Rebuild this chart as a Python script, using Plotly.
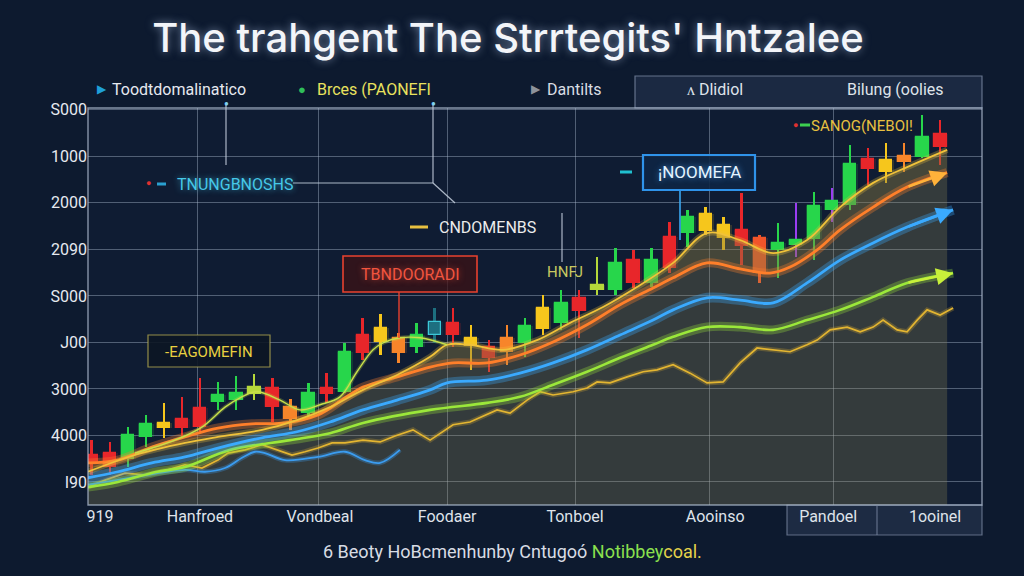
import plotly.graph_objects as go

# ---------------- data ----------------
sessions = list(range(48))
opens  = [0.58,0.62,0.49,0.97,1.16,1.35,1.59,1.72,1.76,1.89,2.02,1.61,1.48,2.02,1.94,3.16,3.01,3.10,2.90,3.16,
          3.42,3.10,2.90,2.80,2.99,3.29,3.42,3.96,4.13,4.13,4.77,4.28,5.27,5.35,5.40,5.53,5.42,5.25,4.99,5.10,
          5.23,5.85,5.96,6.95,6.67,6.88,6.99,7.48]
closes = [0.43,0.32,1.01,1.25,1.27,1.16,1.18,1.87,1.91,2.04,1.61,1.35,1.91,1.89,2.80,2.77,3.31,2.77,3.16,3.44,
          3.16,2.92,2.67,3.10,3.35,3.74,3.85,3.68,4.24,4.71,4.28,4.77,4.60,5.70,5.76,5.25,5.08,4.49,5.14,5.20,
          5.94,6.04,6.84,6.73,6.92,7.01,7.42,7.20]
highs  = [0.90,0.86,1.18,1.44,1.70,1.83,2.24,2.15,2.28,2.32,2.24,1.78,2.13,2.34,2.99,3.53,3.61,3.20,3.42,3.74,
          3.74,3.38,3.05,3.38,3.53,4.02,4.13,4.13,4.84,5.03,4.99,5.03,5.59,5.85,5.91,5.70,6.22,5.30,5.57,6.00,
          6.24,6.32,7.25,7.18,7.29,7.29,7.89,7.78]
lows   = [0.15,0.15,0.32,0.75,0.95,0.97,1.08,1.55,1.55,1.76,1.29,1.12,1.40,1.70,1.91,2.62,2.73,2.56,2.77,2.99,
          2.90,2.41,2.37,2.52,2.69,3.16,3.27,3.10,4.02,4.02,4.17,4.19,4.49,5.05,5.31,4.99,4.67,4.28,4.39,4.84,
          4.77,5.59,5.85,6.39,6.43,6.67,6.97,6.82]
candle_tone = ["red","red","green","green","yellow","red","red","green","green","lime","red","orange","green","red",
               "green","red","yellow","orange","green","teal","red","yellow","red","orange","green","yellow","green",
               "red","lime","green","red","green","red","green","yellow","yellow","red","orangered","green","green",
               "green","green","green","red","yellow","orange","green","red"]
wick_tone = ["purple" if i in (39, 41) else t for i, t in enumerate(candle_tone)]

# smooth indicator lines (session, level)
fast_x = [2.38,4.60,6.09,7.37,8.20,9.14,10.42,11.52,12.63,13.74,14.68,15.57,16.12,17.06,18.17,19.67]
fast_y = [0.62,0.90,1.18,1.61,1.81,1.94,1.76,1.55,1.66,1.83,2.37,2.84,2.99,3.10,3.10,2.95]

yellow_x = [-0.22,2.38,5.15,6.98,9.42,11.36,13.19,15.01,16.90,18.73,19.67,20.94,22.77,24.65,26.48,28.31,30.19,
            32.19,34.07,35.90,37.73,39.61,41.44,43.27,45.15,47.37]
yellow_y = [0.22,0.58,0.84,0.97,1.12,1.33,1.61,1.98,2.30,2.69,2.95,2.95,2.84,3.05,3.42,3.76,4.19,
            4.71,5.35,5.20,4.92,5.20,5.91,6.43,6.77,7.14]

orange_x = [-0.22,1.44,3.32,5.15,6.98,8.86,10.69,12.52,14.02,15.01,16.90,18.73,20.00,21.88,23.71,25.54,27.42,
            29.25,31.08,32.19,34.07,35.90,37.56,38.67,40.17,41.44,43.27,45.15,47.37]
orange_y = [0.41,0.47,0.75,0.97,1.16,1.25,1.27,1.44,1.81,2.04,2.26,2.47,2.56,2.56,2.73,3.01,3.38,
            3.81,4.17,4.39,4.71,4.58,4.49,4.62,4.99,5.42,5.91,6.34,6.65]

blue_x = [-0.22,1.44,3.32,5.15,6.98,9.42,11.36,13.19,15.01,16.90,18.73,19.67,21.88,23.71,25.54,27.42,29.25,
          31.08,32.19,34.07,35.90,37.73,39.61,41.44,43.27,45.15,47.70]
blue_y = [0.09,0.22,0.41,0.54,0.73,0.95,1.08,1.29,1.55,1.76,1.98,2.13,2.19,2.34,2.56,2.84,3.16,
          3.48,3.70,3.96,3.91,3.85,4.28,4.77,5.14,5.48,5.85]

green_x = [-0.22,1.44,3.60,5.15,7.65,10.97,13.19,15.01,18.73,21.88,23.71,25.54,27.42,29.25,31.08,32.19,34.07,
           35.90,37.73,39.61,41.44,43.27,45.15,47.70]
green_y = [-0.11,0.00,0.22,0.32,0.69,0.90,1.05,1.27,1.55,1.70,1.83,2.09,2.37,2.67,2.95,3.12,3.33,
           3.33,3.27,3.48,3.70,3.98,4.28,4.49]

blue2_x = [-0.22,2.11,5.15,6.26,7.37,8.31,9.03,9.58,10.69,12.52,14.02,15.12,15.96,17.06]
blue2_y = [-0.06,0.09,0.26,0.22,0.30,0.52,0.65,0.62,0.47,0.54,0.65,0.47,0.41,0.69]

gold_x = [-0.22,0.72,1.83,2.94,4.21,5.15,6.09,6.98,7.53,8.48,9.42,10.30,11.08,11.80,12.52,13.30,14.02,15.01,
          15.96,16.79,17.78,18.73,20.00,20.94,22.44,23.16,24.10,24.82,25.54,26.65,27.42,27.98,28.70,29.64,
          30.53,31.30,32.19,33.13,34.07,34.96,35.90,36.84,37.73,38.67,39.61,40.17,40.89,41.83,42.55,43.27,
          43.82,44.60,45.15,45.71,46.26,46.98,47.70]
gold_y = [-0.11,0.04,0.19,0.15,0.26,0.37,0.30,0.47,0.62,0.69,0.80,0.69,0.58,0.65,0.73,0.84,0.84,0.90,
          0.86,0.99,1.12,0.90,1.23,1.29,1.55,1.48,1.76,1.94,1.87,1.94,2.02,2.15,2.13,2.26,
          2.37,2.41,2.52,2.34,2.13,2.15,2.56,2.88,2.84,2.80,2.95,3.05,3.27,3.33,3.23,3.33,
          3.48,3.27,3.23,3.48,3.70,3.59,3.74]

y_tick_vals = [0, 1, 2, 3, 4, 5, 6, 7, 8]
y_tick_text = ["I90", "4000", "3000", "J00", "S000", "2090", "2000", "1000", "S000"]
x_tick_vals = [0.44, 5.98, 12.63, 19.67, 26.76, 34.52, 40.78, 46.70]
x_tick_text = ["919", "Hanfroed", "Vondbeal", "Foodaer", "Tonboel", "Aooinso", "Pandoel", "1ooinel"]
x_grid_vals = [5.82, 12.52, 19.67, 26.76, 34.18, 41.05]

# ---------------- styles ----------------
TONE = {"red": "#e8262a", "green": "#27d64b", "yellow": "#f6c61c", "orange": "#f7852a",
        "orangered": "#f2552a", "lime": "#b6d83a", "teal": "#1d6f80", "purple": "#9a3df2"}
X_RANGE = [-0.22, 49.3]
Y_RANGE = [-0.495, 8.04]
BG = "#0d1a2f"
GRID = "rgba(175,188,210,0.42)"

L, R, T, B = 88, 982, 108, 505
def PX(px): return (px - L) / (R - L)
def PY(py): return (B - py) / (B - T)

fig = go.Figure()

# area fill under the upper average
fig.add_trace(go.Scatter(x=yellow_x, y=[Y_RANGE[0]] * len(yellow_x), mode="lines",
                         line=dict(width=0), hoverinfo="skip", line_shape="spline"))
fig.add_trace(go.Scatter(x=yellow_x, y=yellow_y, mode="lines", line=dict(width=0), line_shape="spline",
                         fill="tonexty", fillcolor="rgba(150,140,85,0.28)", hoverinfo="skip"))
fig.add_trace(go.Scatter(x=orange_x, y=orange_y, mode="lines", line=dict(width=0), line_shape="spline",
                         fill="tonexty", fillcolor="rgba(130,110,50,0.22)", hoverinfo="skip"))

def glow_line(x, y, color, glow, width, gw, shape="spline"):
    fig.add_trace(go.Scatter(x=x, y=y, mode="lines", line=dict(color=glow, width=gw, shape=shape),
                             hoverinfo="skip"))
    fig.add_trace(go.Scatter(x=x, y=y, mode="lines", line=dict(color=color, width=width, shape=shape),
                             hoverinfo="skip"))

glow_line(gold_x, gold_y, "#e3b531", "rgba(227,181,49,0.25)", 1.7, 5, "linear")
glow_line(blue2_x, blue2_y, "#3b9cf0", "rgba(59,156,240,0.3)", 1.8, 5)
glow_line(green_x, green_y, "#9be83a", "rgba(155,232,58,0.3)", 2.6, 9)
glow_line(blue_x, blue_y, "#3aaaff", "rgba(58,170,255,0.32)", 2.8, 10)
glow_line(orange_x, orange_y, "#ff7f2a", "rgba(255,127,42,0.32)", 2.8, 9)
glow_line(yellow_x, yellow_y, "#f0c23a", "rgba(240,194,58,0.28)", 1.8, 6)
glow_line(fast_x, fast_y, "#c7e04a", "rgba(199,224,74,0.25)", 1.4, 4)

# candles: glow, wicks, bodies
body_base = [min(o, c) for o, c in zip(opens, closes)]
body_len = [max(abs(c - o), 0.09) for o, c in zip(opens, closes)]
body_col = [TONE[t] for t in candle_tone]
line_col = ["#3cc8d8" if t == "teal" else TONE[t] for t in candle_tone]
fig.add_trace(go.Bar(x=sessions, y=body_len, base=body_base, width=0.88,
                     marker=dict(color=body_col, opacity=0.16, line=dict(width=0)), hoverinfo="skip"))
fig.add_trace(go.Bar(x=sessions, y=[h - l for h, l in zip(highs, lows)], base=lows, width=0.11,
                     marker=dict(color=[TONE[t] for t in wick_tone], line=dict(width=0)), hoverinfo="skip"))
fig.add_trace(go.Bar(x=sessions, y=body_len, base=body_base, width=0.68,
                     marker=dict(color=body_col, line=dict(color=line_col, width=1.2)), hoverinfo="skip"))

# arrow heads at line ends
for xs, ys, col in [(orange_x, orange_y, "#ffb23a"), (blue_x, blue_y, "#3aaaff"), (green_x, green_y, "#c8f03a")]:
    fig.add_annotation(x=xs[-1], y=ys[-1], ax=xs[-2], ay=ys[-2], xref="x", yref="y", axref="x", ayref="y",
                       showarrow=True, arrowhead=2, arrowsize=1.3, arrowwidth=2.6, arrowcolor=col, text="")

shapes = []
def seg(x0, y0, x1, y1, color="rgba(200,210,225,0.85)", w=1.2):
    shapes.append(dict(type="line", xref="paper", yref="paper", x0=PX(x0), y0=PY(y0), x1=PX(x1), y1=PY(y1),
                       line=dict(color=color, width=w)))
def box(x0, y0, x1, y1, line, fill, w=1.2, layer="above"):
    shapes.append(dict(type="rect", xref="paper", yref="paper", x0=PX(x0), y0=PY(y0), x1=PX(x1), y1=PY(y1),
                       line=dict(color=line, width=w), fillcolor=fill, layer=layer))

# plot frame
box(L, T, R, B, "rgba(175,188,208,0.75)", "rgba(0,0,0,0)", 1.4)
# legend panel and bottom tick panel
box(635, 76, 982, 108, "rgba(120,135,160,0.8)", "rgba(40,55,82,0.55)", 1.2, "below")
box(787, 505, 982, 535, "rgba(120,135,160,0.75)", "rgba(45,60,88,0.5)", 1.2, "below")
seg(877, 505, 877, 535, "rgba(120,135,160,0.75)")
# callout leader lines
seg(226, 105, 226, 165)
seg(433, 105, 433, 183)
seg(293, 183, 433, 183)
seg(433, 183, 455, 203)
seg(562, 213, 562, 262)
seg(399, 292, 399, 338, "#e8412f", 1.4)
seg(680, 190, 680, 240, "#3aa8f0", 1.6)
seg(410, 227, 428, 227, "#e8c040", 3)
seg(157, 184, 166, 184, "#2aa0d0", 3)
seg(620, 172, 632, 172, "#20c0d0", 3)
seg(800, 125, 810, 125, "#3cd050", 3)
# callout boxes
box(343, 256, 477, 292, "#e8412f", "rgba(60,18,22,0.75)", 1.6)
box(148, 335, 270, 367, "rgba(180,170,80,0.8)", "rgba(12,22,36,0.9)", 1.2)
box(643, 155, 755, 190, "#2f93ea", "rgba(14,38,68,0.9)", 2.2)

def txt(x, y, s, color, size=16, anchor="left", family="Roboto", weight=400, shadow=None):
    f = dict(color=color, size=size, family=family, weight=weight)
    if shadow:
        f["shadow"] = shadow
    fig.add_annotation(x=PX(x), y=PY(y), xref="paper", yref="paper", text=s, showarrow=False,
                       xanchor=anchor, yanchor="middle", font=f)

# legend row
txt(95, 89, "▶", "#1ea0d8", 12)
txt(110, 89, "Toodtdomalinatico", "#e6e9ef", 16)
txt(296, 89, "●", "#2fbf5a", 13)
txt(315, 89, "Brces (PAONEFI", "#e9e25e", 16)
txt(529, 89, "▶", "#8d939c", 12)
txt(545, 89, "Dantilts", "#d9dde4", 16)
txt(715, 89, "ᴧ Dlidiol", "#dfe3ea", 16, "center")
txt(895, 89, "Bilung (oolies", "#dfe3ea", 16, "center")
# dots at leader tops
txt(226, 104, "●", "#7fd0f0", 8, "center")
txt(433, 104, "●", "#7fd0f0", 8, "center")
# callouts
txt(148, 183, "●", "#e03030", 9, "center")
txt(175, 184, "TNUNGBNOSHS", "#46c8e8", 16, shadow="0 0 6px rgba(70,200,232,0.7)")
txt(437, 227, "CNDOMENBS", "#ececec", 16)
txt(565, 272, "HNFJ", "#c8c860", 15, "center")
txt(410, 274, "TBNDOORADI", "#f2553f", 16, "center", shadow="0 0 6px rgba(242,85,63,0.7)")
txt(209, 352, "-EAGOMEFIN", "#e8d040", 15, "center")
txt(699, 172, "¡NOOMEFA", "#e4f4ff", 17, "center", shadow="0 0 6px rgba(80,170,255,0.8)")
txt(795, 125, "●", "#e03030", 9, "center")
txt(862, 126, "SANOG(NEBOI!", "#e8c040", 15, "center")
# caption
txt(512, 551, "6 Beoty HoBcmenhunby Cntugoó <span style='color:#8be04e'>Notibbey</span>"
    "<span style='color:#e4d24a'>coal.</span>", "#d8dce4", 18, "center")

fig.update_layout(
    width=1024, height=576,
    margin=dict(l=L, r=1024 - R, t=T, b=576 - B),
    paper_bgcolor=BG, plot_bgcolor="#0f1c33",
    showlegend=False, barmode="overlay", bargap=0,
    shapes=shapes,
    title=dict(text="The trahgent The Strrtegits' Hntzalee", x=508 / 1024, y=1 - 38 / 576,
               xanchor="center", yanchor="middle",
               font=dict(family="Inter", size=40, weight=500, color="#f3f5f9",
                         shadow="0 0 8px rgba(200,220,255,0.55)")),
    xaxis=dict(range=X_RANGE, showgrid=False, zeroline=False, showline=False,
               tickmode="array", tickvals=x_tick_vals, ticktext=x_tick_text, ticks="",
               tickfont=dict(family="Roboto", size=16, color="#dfe3ea"),
               minor=dict(tickmode="array", tickvals=x_grid_vals, showgrid=True, gridcolor=GRID,
                          gridwidth=1, ticks="")),
    yaxis=dict(range=Y_RANGE, showgrid=True, gridcolor=GRID, gridwidth=1, zeroline=False, showline=False,
               tickmode="array", tickvals=y_tick_vals, ticktext=y_tick_text, ticks="",
               tickfont=dict(family="Roboto", size=16, color="#e6e9ef")),
)

fig.write_html("out.html")
